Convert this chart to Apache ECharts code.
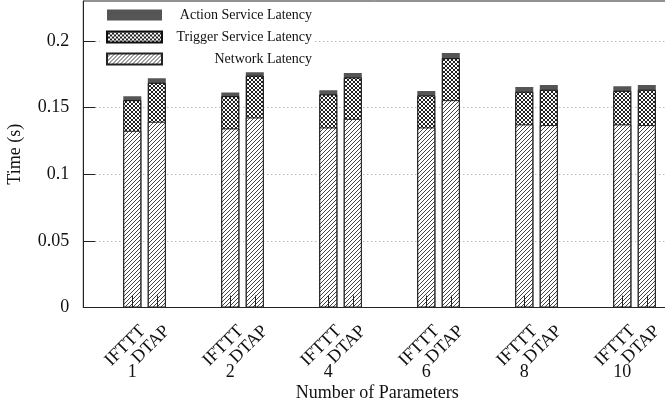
<!DOCTYPE html>
<html>
<head>
<meta charset="utf-8">
<script src="https://cdn.jsdelivr.net/npm/echarts@6/dist/echarts.min.js"></script>
<style>
html,body{margin:0;padding:0;background:#fff;}
#chart{width:665px;height:403px;}
</style>
</head>
<body>
<div id="chart"></div>
<script>
// ---- data ----
var groups = ['1', '2', '4', '6', '8', '10'];
var systems = ['IFTTT', 'DTAP'];
// bar order: IFTTT-1, DTAP-1, IFTTT-2, DTAP-2, ...
var networkLatency = [0.1326, 0.1394, 0.1344, 0.1426, 0.1351, 0.1416, 0.1351, 0.1556, 0.1374, 0.1369, 0.1374, 0.1369];
var triggerLatency = [0.0230, 0.0292, 0.0242, 0.0313, 0.0248, 0.0310, 0.0240, 0.0315, 0.0245, 0.0265, 0.0252, 0.0265];
var actionLatency  = [0.0030, 0.0035, 0.0028, 0.0027, 0.0032, 0.0033, 0.0033, 0.0038, 0.0035, 0.0035, 0.0035, 0.0035];
var seriesNames = ['Action Service Latency', 'Trigger Service Latency', 'Network Latency'];

// ---- positions of bars on slot axis (4 slots per group) ----
function barX(i) { return Math.floor(i / 2) * 4 + 1 + (i % 2); }
var barPositions = networkLatency.map(function (v, i) { return barX(i); });
var labelShift = 0.42;
var ifttPositions = groups.map(function (g, k) { return k * 4 + 1 + labelShift; });
var dtapPositions = groups.map(function (g, k) { return k * 4 + 2 + labelShift; });
var groupPositions = groups.map(function (g, k) { return k * 4 + 1; });

// stacked tops (drawn back to front so each segment shows its own band)
var netTop = networkLatency.slice();
var trigTop = networkLatency.map(function (v, i) { return v + triggerLatency[i]; });
var actTop = trigTop.map(function (v, i) { return v + actionLatency[i]; });
function toPairs(arr) { return arr.map(function (v, i) { return [barX(i), v]; }); }

// ---- patterns ----
function makeHatch() {
  var s = 4, c = document.createElement('canvas');
  c.width = s; c.height = s;
  var ctx = c.getContext('2d');
  ctx.fillStyle = '#fff'; ctx.fillRect(0, 0, s, s);
  ctx.fillStyle = '#444';
  for (var i = 0; i < s; i++) ctx.fillRect(i, s - 1 - i, 1, 1);
  return c;
}
function makeCross() {
  var s = 4, c = document.createElement('canvas');
  c.width = s; c.height = s;
  var ctx = c.getContext('2d');
  ctx.fillStyle = '#fff'; ctx.fillRect(0, 0, s, s);
  ctx.fillStyle = '#222';
  for (var i = 0; i < s; i++) { ctx.fillRect(i, s - 1 - i, 1, 1); ctx.fillRect(i, i, 1, 1); }
  return c;
}
var hatchColor = { image: makeHatch(), repeat: 'repeat' };
var crossColor = { image: makeCross(), repeat: 'repeat' };

var FONT = 'Liberation Serif';
var chart = echarts.init(document.getElementById('chart'), null, { renderer: 'canvas' });

function labelAxis(values, names, margin, rotate) {
  return {
    type: 'value', min: -1, max: 23, position: 'bottom', offset: 0,
    axisLine: { show: false, onZero: false }, axisTick: { show: false }, splitLine: { show: false },
    axisLabel: {
      customValues: values, margin: margin, rotate: rotate,
      fontFamily: FONT, fontSize: 18, color: '#111',
      formatter: function (v) {
        var best = 0, d = 1e9;
        values.forEach(function (x, k) { if (Math.abs(x - v) < d) { d = Math.abs(x - v); best = k; } });
        return names[best];
      }
    }
  };
}

var option = {
  animation: false,
  backgroundColor: '#fff',
  grid: { left: 83.3, right: -6.3, top: 1, bottom: 95.5, containLabel: false, outerBoundsMode: 'none',
          show: true, borderColor: '#222', borderWidth: 1, backgroundColor: 'transparent' },
  legend: {
    orient: 'vertical',
    left: 100, top: 4,
    padding: [4, 2, 4, 6],
    backgroundColor: '#fff',
    icon: 'rect',
    itemWidth: 55, itemHeight: 11, itemGap: 8,
    data: seriesNames,
    formatter: function (n) { return '{t|' + n + '}'; },
    textStyle: {
      fontFamily: FONT, fontSize: 14, color: '#111', lineHeight: 14,
      rich: { t: { width: 145, align: 'right', fontFamily: FONT, fontSize: 14, color: '#111', lineHeight: 14 } }
    }
  },
  xAxis: [{
    type: 'value', min: -1, max: 23, z: 5,
    name: 'Number of Parameters', nameLocation: 'middle', nameGap: 77,
    nameTextStyle: { fontFamily: FONT, fontSize: 18, color: '#111' },
    axisLine: { show: true, onZero: false, lineStyle: { color: '#222', width: 1 } },
    axisTick: { show: true, inside: true, length: 12, customValues: barPositions, lineStyle: { color: '#222', width: 1 } },
    splitLine: { show: false },
    axisLabel: { show: false }
  },
    labelAxis(ifttPositions, groups.map(function () { return systems[0]; }), 21, 45),
    labelAxis(dtapPositions, groups.map(function () { return systems[1]; }), 21, 45),
    labelAxis(groupPositions, groups, 56, 0)
  ],
  yAxis: {
    type: 'value', min: 0, max: 0.23, interval: 0.05,
    name: 'Time (s)', nameLocation: 'middle', nameGap: 59,
    nameTextStyle: { fontFamily: FONT, fontSize: 18, color: '#111' },
    axisLine: { show: true, onZero: false, lineStyle: { color: '#222', width: 1 } },
    axisTick: { show: true, inside: true, length: 12, lineStyle: { color: '#222' } },
    axisLabel: { showMaxLabel: false, margin: 14, fontFamily: FONT, fontSize: 18, color: '#111' },
    splitLine: { show: true, lineStyle: { color: '#999', type: [1, 3], width: 1 } }
  },
  series: [{
    name: 'Action Service Latency', type: 'bar', barWidth: 18, barGap: '-100%',
    data: toPairs(actTop),
    itemStyle: { color: '#555', borderColor: '#555', borderWidth: 0 }
  }, {
    name: 'Trigger Service Latency', type: 'bar', barWidth: 18, barGap: '-100%',
    data: toPairs(trigTop),
    itemStyle: { color: crossColor, borderColor: '#111', borderWidth: 1 }
  }, {
    name: 'Network Latency', type: 'bar', barWidth: 18, barGap: '-100%',
    data: toPairs(netTop),
    itemStyle: { color: hatchColor, borderColor: '#222', borderWidth: 1 }
  }]
};
chart.setOption(option);
</script>
</body>
</html>
